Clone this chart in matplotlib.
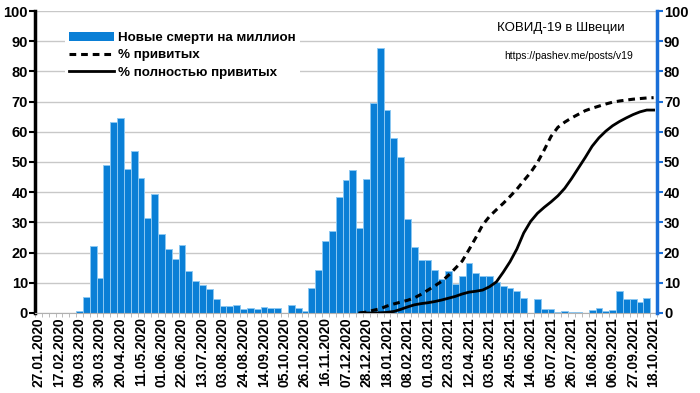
import matplotlib

matplotlib.use("Agg")

import matplotlib.pyplot as plt
import numpy as np
import pandas as pd
from matplotlib.patches import Patch
from matplotlib.lines import Line2D
from matplotlib.ticker import MultipleLocator, FixedLocator


FIRST_WEEK = "2020-01-27"
DEATHS_PER_MILLION = [
    0, 0, 0, 0, 0, 0, 0.8, 5.3, 22.2, 11.7,
    49.1, 63.1, 64.5, 47.8, 53.8, 44.7, 31.6, 39.3, 26.1, 21.3,
    17.8, 22.4, 14.0, 10.6, 9.2, 7.8, 4.7, 2.2, 2.2, 2.8,
    1.3, 1.6, 1.3, 2.0, 1.7, 1.7, 0, 2.5, 1.7, 0.7,
    8.3, 14.1, 24.0, 27.3, 38.3, 44.2, 47.3, 28.3, 44.3, 69.5,
    87.7, 67.2, 57.8, 51.7, 31.0, 22.0, 17.6, 17.6, 14.2, 11.4,
    14.0, 9.6, 12.2, 16.6, 13.4, 12.4, 12.4, 10.3, 9.1, 8.4,
    7.2, 5.1, 0, 4.6, 1.2, 1.2, 0.45, 0.55, 0.4, 0.2,
    0.1, 1.0, 1.8, 0.8, 1.1, 7.2, 4.6, 4.7, 3.7, 5.1,
    0,
]
VAX_FIRST_WEEK = "2020-12-21"
PCT_VACCINATED = [
    0, 0.3, 0.9, 1.4, 2.3, 3.0, 3.6, 4.2, 5.0, 6.2,
    7.6, 9.0, 10.5, 12.5, 14.8, 17.2, 21.0, 25.0, 29.2, 32.0,
    34.2, 36.3, 38.6, 41.0, 43.8, 46.5, 49.8, 54.0, 58.5, 61.5,
    63.2, 64.6, 65.8, 67.0, 67.8, 68.5, 69.2, 69.8, 70.2, 70.5,
    70.8, 71.0, 71.2, 71.3,
]
PCT_FULLY_VACCINATED = [
    0, 0, 0, 0.05, 0.2, 0.5, 1.2, 2.0, 2.7, 3.1,
    3.4, 3.8, 4.3, 4.9, 5.5, 6.3, 6.9, 7.2, 7.6, 8.7,
    10.3, 13.5, 17.0, 21.2, 26.5, 30.3, 33.0, 35.0, 36.8, 38.8,
    41.3, 44.5, 48.0, 51.5, 55.2, 58.0, 60.2, 62.0, 63.4, 64.6,
    65.7, 66.6, 67.2, 67.2,
]

BAR_COLOR = "#0a7fd6"
AXIS_BLUE = "#1a6fd8"

plt.rcParams["font.family"] = ["Liberation Sans", "DejaVu Sans"]

weeks = pd.date_range(FIRST_WEEK, periods=len(DEATHS_PER_MILLION), freq="7D")
x = np.arange(len(weeks))
vax_start = int((pd.Timestamp(VAX_FIRST_WEEK) - weeks[0]).days // 7)
vx = np.arange(vax_start, vax_start + len(PCT_VACCINATED))

fig = plt.figure(figsize=(7, 3.93), dpi=100)
ax = fig.add_axes([0.05, 0.2036, 0.8886, 0.7684])

ax.bar(x, DEATHS_PER_MILLION, width=1.0, color=BAR_COLOR,
       edgecolor="#8cc8f2", linewidth=0.7, zorder=2)
ax.set_xlim(-0.5, len(x) - 0.5)
ax.set_ylim(0, 100)
ax.yaxis.set_major_locator(MultipleLocator(10))
ax.grid(axis="y", color="#c8c8c8", linewidth=1.0, zorder=0)
ax.set_axisbelow(True)

ax.set_xticks(x[::3])
ax.set_xticklabels([d.strftime("%d.%m.%Y") for d in weeks[::3]],
                   rotation=90, fontsize=10, fontweight="bold")
ax.xaxis.set_minor_locator(FixedLocator(np.arange(-0.5, len(x), 1)))
ax.tick_params(axis="x", which="major", length=0, pad=3)
ax.tick_params(axis="x", which="minor", length=3, color="#b0b0b0")
ax.tick_params(axis="y", labelsize=10.5, length=4, width=1.5, pad=1)
for lbl in ax.get_yticklabels():
    lbl.set_fontweight("bold")

ax.spines["top"].set_visible(False)
ax.spines["right"].set_visible(False)
ax.spines["bottom"].set_color("#b0b0b0")
ax.spines["left"].set_linewidth(2.5)

ax2 = ax.twinx()
ax2.set_ylim(0, 100)
ax2.yaxis.set_major_locator(MultipleLocator(10))
ax2.plot(vx, PCT_VACCINATED, color="black", linestyle=(0, (2.2, 1.6)), linewidth=2.2)
ax2.plot(vx, PCT_FULLY_VACCINATED, color="black", linewidth=2.0)
for side in ["top", "left", "bottom"]:
    ax2.spines[side].set_visible(False)
ax2.spines["right"].set_color(AXIS_BLUE)
ax2.spines["right"].set_linewidth(2.5)
ax2.tick_params(axis="y", labelsize=10.5, length=4, width=1.5, color=AXIS_BLUE, pad=1)
for lbl in ax2.get_yticklabels():
    lbl.set_fontweight("bold")

handles = [
    Patch(facecolor=BAR_COLOR, edgecolor="none"),
    Line2D([], [], color="black", linestyle=(0, (2.2, 1.6)), linewidth=2.2),
    Line2D([], [], color="black", linewidth=2.0),
]
labels = ["Новые смерти на миллион", "% привитых", "% полностью привитых"]
leg = ax2.legend(handles, labels, loc="upper left", bbox_to_anchor=(0.048, 0.945),
                 prop={"weight": "bold", "size": 9.6}, frameon=True,
                 facecolor="white", edgecolor="none", framealpha=1,
                 borderpad=0.3, labelspacing=0.38, handlelength=3.4,
                 handletextpad=0.3, borderaxespad=0, fancybox=False)

ax2.text(0.845, 0.945, "КОВИД-19 в Швеции", transform=ax2.transAxes,
         ha="center", va="center", fontsize=9.5)
ax2.text(0.858, 0.85, "https://pashev.me/posts/v19", transform=ax2.transAxes,
         ha="center", va="center", fontsize=7.5)

fig.savefig("out.png", dpi=100)
